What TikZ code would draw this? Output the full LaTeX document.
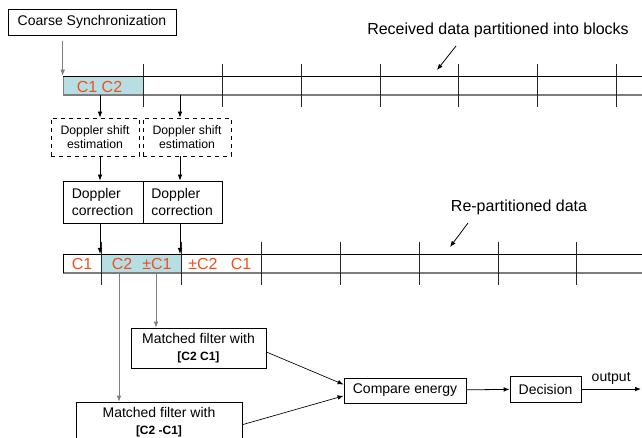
\documentclass[tikz,border=0pt]{standalone}
\usepackage{fontspec}
\setmainfont{Liberation Sans}
\usetikzlibrary{arrows.meta}
\definecolor{cellcyan}{RGB}{183,222,226}
\definecolor{codered}{RGB}{240,78,32}
\definecolor{linegray}{RGB}{125,125,125}

\begin{document}
\begin{tikzpicture}[x=0.75pt, y=-0.75pt,
    box/.style={rectangle, draw, line width=0.6pt, align=center, inner sep=2pt,
                font=\fontsize{10.5}{12.5}\selectfont},
    estbox/.style={box, dashed, minimum width=66pt, minimum height=28.5pt,
                   font=\fontsize{9.2}{10.8}\selectfont},
    corrbox/.style={box, align=left, inner xsep=6pt, text width=47.5pt,
                    minimum height=31.5pt},
    cell/.style={rectangle, draw=linegray, fill=cellcyan, line width=0.5pt,
                 minimum width=60pt, minimum height=14.25pt, inner sep=0pt},
    code/.style={text=codered, font=\fontsize{12}{14}\selectfont, inner sep=0pt},
    note/.style={font=\fontsize{12}{14}\selectfont, inner sep=0pt},
    arr/.style={-{Latex[length=4.5pt,width=3.5pt]}, line width=0.6pt},
    garr/.style={arr, draw=linegray},
    tick/.style={line width=0.7pt, draw=black!85},
  ]
  \useasboundingbox (0,0) rectangle (642,438);

  % Coarse synchronization
  \node[box, minimum width=126pt, minimum height=19.5pt] (coarse) at (92,22) {Coarse Synchronization};

  % Received data partitioned into blocks
  \node[cell] (sync) at (103,85.5) {};
  \node[code] (c12) at (99.5,87) {C1 C2};
  \draw (63,76) -- (642,76);
  \draw[linegray, line width=1.2pt] (63,95) -- (642,95);
  \foreach \x in {143,222,301,380,458,537,616}
    \draw[tick] (\x,64) -- (\x,107);
  \node[note] (recv) at (498,30) {Received data partitioned into blocks};
  \coordinate (rtail) at (456,46);
  \draw[arr] (rtail) -- ++(-19,24);

  % Doppler shift estimation
  \node[estbox] (est1) at (95,137) {Doppler shift\\estimation};
  \node[estbox] (est2) at (187,137) {Doppler shift\\estimation};

  % Doppler correction
  \node[corrbox] (corr1) at (103.5,202) {Doppler\\correction};
  \node[corrbox] (corr2) at (183,202) {Doppler\\correction};

  % Re-partitioned data
  \node[cell] (rep) at (141,263.5) {};
  \draw (63,254) -- (642,254);
  \draw[linegray, line width=1.2pt] (63,273) -- (642,273);
  \draw (63,254) -- (63,273);
  \foreach \x in {101,181,261,340,419,498,576}
    \draw[tick] (\x,242) -- (\x,285);
  \node[code] (r1) at (82,264) {C1};
  \node[code] (r2) at (122,264) {C2};
  \node[code] (r3) at (157,264) {±C1};
  \node[code] (r4) at (203,264) {±C2};
  \node[code] (r5) at (241,264) {C1};
  \node[note] (repl) at (519,207) {Re-partitioned data};
  \coordinate (ptail) at (468,223);
  \draw[arr] (ptail) -- ++(-18,24);

  % Matched filters, comparison, decision
  \node[box, minimum width=101.25pt, minimum height=30pt] (mf1) at (198.5,348)
    {Matched filter with\\{\bfseries\fontsize{9}{11}\selectfont [C2 C1]}};
  \node[box, minimum width=124.5pt, minimum height=30pt] (mf2) at (159,422)
    {Matched filter with\\{\bfseries\fontsize{9}{11}\selectfont [C2 -C1]}};
  \node[box, minimum width=91.5pt, minimum height=18.75pt] (cmp) at (405,390.5) {Compare energy};
  \node[box, minimum width=53.25pt, minimum height=19.5pt] (dec) at (545.5,389) {Decision};
  \coordinate (out) at (641,389);

  % Edges
  \coordinate (a1) at (100,95);
  \coordinate (a2) at (180,95);
  \coordinate (b1) at (100,254);
  \coordinate (b2) at (180,254);
  \coordinate (s1) at (156,273);
  \coordinate (s2) at (119,273);
  \draw[garr, shorten <=4pt] (sync.north west |- coarse.south) -- (sync.north west);
  \draw[arr] (a1) -- (a1 |- est1.north);
  \draw[arr] (a2) -- (a2 |- est2.north);
  \draw[arr] (a1 |- est1.south) -- (a1 |- corr1.north);
  \draw[arr] (a2 |- est2.south) -- (a2 |- corr2.north);
  \draw[arr] (a1 |- corr1.south) -- (b1);
  \draw[arr] (a2 |- corr2.south) -- (b2);
  \draw[garr] (s1) -- (s1 |- mf1.north);
  \draw[garr] (s2) -- (s2 |- mf2.north);
  \draw[arr, line width=0.5pt] ([yshift=-3pt]mf1.east) -- ([yshift=4.5pt]cmp.west);
  \draw[arr, line width=0.5pt] ([yshift=-2pt]mf2.east) -- ([yshift=-4pt]cmp.west);
  \draw[arr] (cmp) -- (dec);
  \draw[arr] (dec) -- node[above, font=\fontsize{10.5}{12.5}\selectfont] (outl) {output} (out);

\end{tikzpicture}
\end{document}
